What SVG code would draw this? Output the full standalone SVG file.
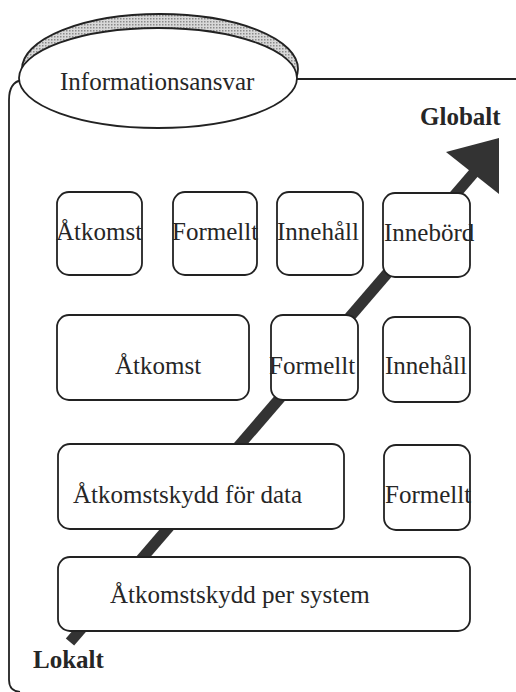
<svg xmlns="http://www.w3.org/2000/svg" width="516" height="692" viewBox="0 0 516 692">
  <defs>
    <pattern id="dots" width="3" height="3" patternUnits="userSpaceOnUse">
      <rect width="3" height="3" fill="#d8d8d8"/>
      <rect width="1.5" height="1.5" fill="#8a8a8a"/>
    </pattern>
  </defs>
  <style>
    .box { fill: #ffffff; stroke: #222222; stroke-width: 1.8; }
    .frame { fill: none; stroke: #222222; stroke-width: 1.8; }
    .lbl { font-family: "Liberation Serif", "Times New Roman", serif; font-size: 25px; fill: #262626; }
    .end { font-family: "Liberation Serif", "Times New Roman", serif; font-size: 25px; font-weight: bold; fill: #262626; }
    .shaft { stroke: #333333; stroke-width: 11; fill: none; }
  </style>
  <rect width="516" height="692" fill="#ffffff"/>

  <!-- outer frame, open to the right and bottom -->
  <path class="frame" d="M 22 80 Q 9 82 9 100 L 9 680 Q 9 691 20 692 M 290 79 L 520 79"/>

  <!-- connectors: the local-to-global arrow runs behind the boxes -->
  <g id="connectors">
    <line class="shaft" x1="70" y1="642" x2="478" y2="168"/>
    <polygon points="499,138 446,152 499,194" fill="#333333"/>
  </g>

  <!-- title ellipse with shaded rim -->
  <g id="informationsansvar">
    <ellipse cx="160" cy="69" rx="138" ry="55" fill="url(#dots)" stroke="#222222" stroke-width="1.8"/>
    <ellipse cx="158" cy="78" rx="139" ry="50" class="box"/>
    <text class="lbl" x="60" y="90">Informationsansvar</text>
  </g>

  <!-- top row -->
  <g id="r1-atkomst">
    <rect class="box" x="57" y="192" width="85" height="83" rx="12"/>
    <text class="lbl" x="56" y="240">Åtkomst</text>
  </g>
  <g id="r1-formellt">
    <rect class="box" x="173" y="192" width="84" height="83" rx="12"/>
    <text class="lbl" x="172" y="240">Formellt</text>
  </g>
  <g id="r1-innehall">
    <rect class="box" x="277" y="192" width="86" height="83" rx="12"/>
    <text class="lbl" x="277" y="240">Innehåll</text>
  </g>
  <g id="r1-innebord">
    <rect class="box" x="383" y="193" width="87" height="84" rx="12"/>
    <text class="lbl" x="384" y="241">Innebörd</text>
  </g>

  <!-- second row -->
  <g id="r2-atkomst">
    <rect class="box" x="57" y="315" width="192" height="85" rx="12"/>
    <text class="lbl" x="115" y="374">Åtkomst</text>
  </g>
  <g id="r2-formellt">
    <rect class="box" x="271" y="315" width="87" height="85" rx="12"/>
    <text class="lbl" x="269" y="374">Formellt</text>
  </g>
  <g id="r2-innehall">
    <rect class="box" x="383" y="317" width="87" height="85" rx="12"/>
    <text class="lbl" x="385" y="374">Innehåll</text>
  </g>

  <!-- third row -->
  <g id="r3-data">
    <rect class="box" x="58" y="444" width="286" height="85" rx="12"/>
    <text class="lbl" x="73" y="503">Åtkomstskydd för data</text>
  </g>
  <g id="r3-formellt">
    <rect class="box" x="384" y="445" width="86" height="85" rx="12"/>
    <text class="lbl" x="385" y="503">Formellt</text>
  </g>

  <!-- bottom row -->
  <g id="r4-system">
    <rect class="box" x="58" y="557" width="412" height="74" rx="12"/>
    <text class="lbl" x="110" y="603">Åtkomstskydd per system</text>
  </g>

  <!-- scale ends -->
  <g id="globalt">
    <text class="end" x="420" y="125">Globalt</text>
  </g>
  <g id="lokalt">
    <text class="end" x="33" y="668">Lokalt</text>
  </g>
</svg>
